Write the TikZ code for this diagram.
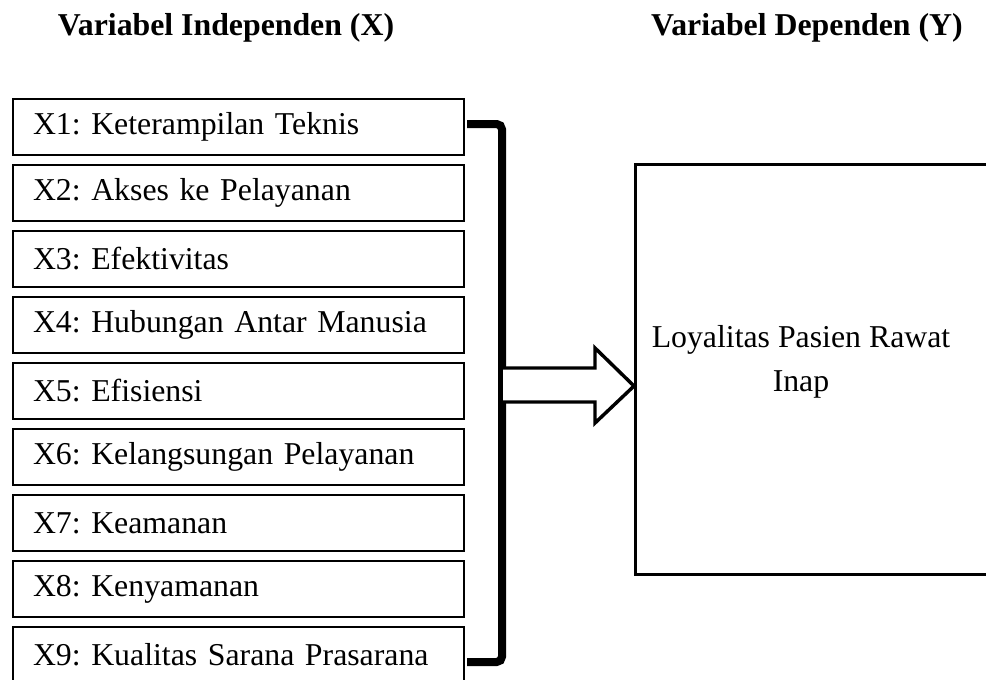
\documentclass[tikz,border=0pt]{standalone}
\usepackage{fontspec}
\setmainfont{Liberation Serif}
\frenchspacing
\begin{document}
\begin{tikzpicture}[x=0.75pt,y=-0.75pt,
  varbox/.style={draw=black,line width=1.5pt,minimum width=451*0.75pt,minimum height=56*0.75pt,
    anchor=north west,inner xsep=20*0.75pt,inner ysep=0pt,text width=411*0.75pt,align=left,
    font=\fontsize{23.85}{28}\selectfont},
  title/.style={font=\fontsize{23.85}{28}\selectfont\bfseries,inner sep=0pt},
  ytext/.style={font=\fontsize{23.85}{28}\selectfont,inner sep=0pt},
  bracketline/.style={line width=6pt,rounded corners=4pt},
  bigarrow/.style={draw=black,line width=2.6pt,fill=white,line join=miter}]
\clip (0,0) rectangle (986,679);
\node[title] (tx) at (226,28) {Variabel Independen (X)};
\node[title] (ty) at (807,28) {Variabel Dependen (Y)};
\foreach \i/\t in {1/{X1: Keterampilan Teknis},2/{X2: Akses ke Pelayanan},3/{X3: Efektivitas},
  4/{X4: Hubungan Antar Manusia},5/{X5: Efisiensi},6/{X6: Kelangsungan Pelayanan},
  7/{X7: Keamanan},8/{X8: Kenyamanan},9/{X9: Kualitas Sarana Prasarana}}{
  \node[varbox] (x\i) at (12,{98+(\i-1)*66}) {\t};
}
\node[draw=black,line width=2.2pt,minimum width=380*0.75pt,minimum height=410*0.75pt,anchor=north west] (y) at (634,163) {};
\node[ytext] (yl1) at (801,340) {Loyalitas Pasien Rawat};
\node[ytext] (yl2) at (801,384) {Inap};
\coordinate (bt) at (467,124);
\coordinate (bb) at (467,662);
\draw[bracketline] (bt) -- (502,124) -- (502,662) -- (bb);
\coordinate (a0) at (503,368);
\draw[bigarrow] (a0) -- (595,368) -- (595,348) -- (y.west |- 0,386) -- (595,423) -- (595,402) -- (503,402);
\end{tikzpicture}
\end{document}
